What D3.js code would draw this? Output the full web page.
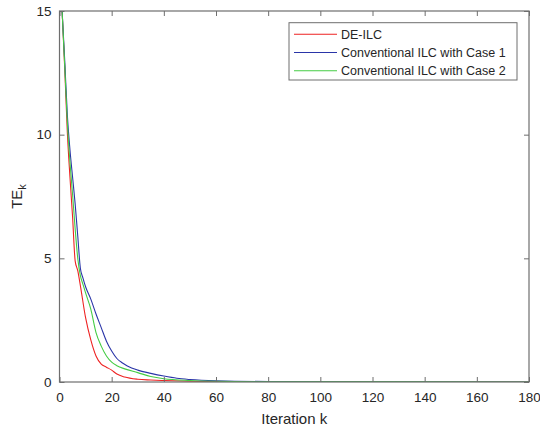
<!DOCTYPE html>
<html>
<head>
<meta charset="utf-8">
<script src="https://cdn.jsdelivr.net/npm/d3@7"></script>
<style>
  body { margin: 0; background: #fff; }
  svg { display: block; font-family: "Liberation Sans", Arial, sans-serif; }
</style>
</head>
<body>
<svg width="540" height="428"></svg>
<script>
// values
const deIlcIter = [1, 2, 3, 4, 5, 6, 7, 8, 10, 12, 14, 16, 18, 20, 22, 25, 30, 35, 40, 50, 60, 80, 100, 180];
const deIlcTE   = [15, 12.7, 10.1, 8.3, 6.7, 4.9, 4.5, 3.9, 2.6, 1.7, 1.05, 0.72, 0.6, 0.48, 0.32, 0.2, 0.11, 0.08, 0.06, 0.03, 0.02, 0.01, 0.005, 0];

const case1Iter = [1, 2, 3, 4, 5, 6, 7, 8, 9, 10, 12, 14, 16, 18, 20, 22, 24, 26, 30, 35, 40, 45, 50, 60, 80, 180];
const case1TE   = [15, 13, 10.8, 9.4, 8.3, 7.2, 5.9, 4.6, 4.2, 3.85, 3.35, 2.75, 2.2, 1.65, 1.25, 0.95, 0.78, 0.65, 0.48, 0.35, 0.24, 0.15, 0.1, 0.05, 0.02, 0];

const case2Iter = [1, 2, 3, 4, 5, 6, 7, 8, 9, 10, 12, 14, 16, 18, 20, 22, 25, 30, 35, 40, 50, 60, 80, 180];
const case2TE   = [15, 12.8, 10.5, 8.9, 7.6, 6.2, 5.0, 4.3, 3.95, 3.6, 2.95, 2.0, 1.45, 1.05, 0.8, 0.66, 0.53, 0.38, 0.22, 0.13, 0.06, 0.03, 0.01, 0];

const seriesNames = ["DE-ILC", "Conventional ILC with Case 1", "Conventional ILC with Case 2"];
const seriesColors = ["#ee2222", "#2a35a8", "#44cc44"];
const xTicks = [0, 20, 40, 60, 80, 100, 120, 140, 160, 180];
const yTicks = [0, 5, 10, 15];

const series = [
  d3.zip(deIlcIter, deIlcTE),
  d3.zip(case1Iter, case1TE),
  d3.zip(case2Iter, case2TE)
];

const svg = d3.select("svg");
const margin = {top: 11, right: 11, bottom: 46, left: 59.5};
const width = +svg.attr("width");
const height = +svg.attr("height");
const axisColor = "#6e6e6e";
const textColor = "#262626";

const x = d3.scaleLinear().domain([0, 180]).range([margin.left, width - margin.right]);
const y = d3.scaleLinear().domain([0, 15]).range([height - margin.bottom, margin.top]);

svg.append("clipPath").attr("id", "plotClip")
  .append("rect")
    .attr("x", x(0)).attr("y", y(15))
    .attr("width", x(180) - x(0)).attr("height", y(0) - y(15));

const line = d3.line()
  .x(d => x(d[0]))
  .y(d => y(d[1]))
  .curve(d3.curveMonotoneX);

const plot = svg.append("g").attr("clip-path", "url(#plotClip)");
plot.selectAll("path")
  .data(series)
  .enter()
  .append("path")
    .attr("d", line)
    .attr("fill", "none")
    .attr("stroke", (d, i) => seriesColors[i])
    .attr("stroke-width", 1.1);

// axes: bottom/left with labels, top/right ticks only (box on)
const tickLen = 5;
function styleAxis(g) {
  g.select(".domain").remove();
  g.selectAll(".tick line").attr("stroke", axisColor);
  g.selectAll(".tick text").attr("fill", textColor).attr("font-size", "13.5px");
}

svg.append("g")
  .attr("transform", `translate(0,${y(0)})`)
  .call(d3.axisBottom(x).tickValues(xTicks).tickSizeInner(-tickLen).tickSizeOuter(0).tickPadding(10))
  .call(styleAxis);

svg.append("g")
  .attr("transform", `translate(0,${y(15)})`)
  .call(d3.axisTop(x).tickValues(xTicks).tickSizeInner(-tickLen).tickSizeOuter(0).tickFormat(""))
  .call(styleAxis);

svg.append("g")
  .attr("transform", `translate(${x(0)},0)`)
  .call(d3.axisLeft(y).tickValues(yTicks).tickSizeInner(-tickLen).tickSizeOuter(0).tickPadding(8))
  .call(styleAxis);

svg.append("g")
  .attr("transform", `translate(${x(180)},0)`)
  .call(d3.axisRight(y).tickValues(yTicks).tickSizeInner(-tickLen).tickSizeOuter(0).tickFormat(""))
  .call(styleAxis);

svg.append("rect")
  .attr("x", x(0)).attr("y", y(15))
  .attr("width", x(180) - x(0)).attr("height", y(0) - y(15))
  .attr("fill", "none")
  .attr("stroke", axisColor)
  .attr("stroke-width", 1.2);

// axis titles
svg.append("text")
  .attr("x", (x(0) + x(180)) / 2)
  .attr("y", 424)
  .attr("text-anchor", "middle")
  .attr("font-size", "15px")
  .attr("fill", textColor)
  .text("Iteration k");

const yLabel = svg.append("text")
  .attr("transform", `translate(22,${(y(0) + y(15)) / 2}) rotate(-90)`)
  .attr("text-anchor", "middle")
  .attr("font-size", "15px")
  .attr("fill", textColor);
yLabel.append("tspan").text("TE");
yLabel.append("tspan").attr("dy", 4).attr("font-size", "11px").text("k");

// legend
const legend = svg.append("g");
legend.append("rect")
  .attr("x", 289).attr("y", 22.7)
  .attr("width", 228).attr("height", 57.3)
  .attr("fill", "#fff")
  .attr("stroke", axisColor)
  .attr("stroke-width", 1);

const rows = legend.selectAll("g.row")
  .data(seriesNames)
  .enter()
  .append("g")
    .attr("class", "row")
    .attr("transform", (d, i) => `translate(0,${34.3 + i * 18.2})`);

rows.append("line")
  .attr("x1", 294).attr("x2", 337)
  .attr("stroke", (d, i) => seriesColors[i])
  .attr("stroke-width", 1.1);

rows.append("text")
  .attr("x", 341)
  .attr("dy", "0.35em")
  .attr("font-size", "12.5px")
  .attr("fill", textColor)
  .text(d => d);
</script>
</body>
</html>
